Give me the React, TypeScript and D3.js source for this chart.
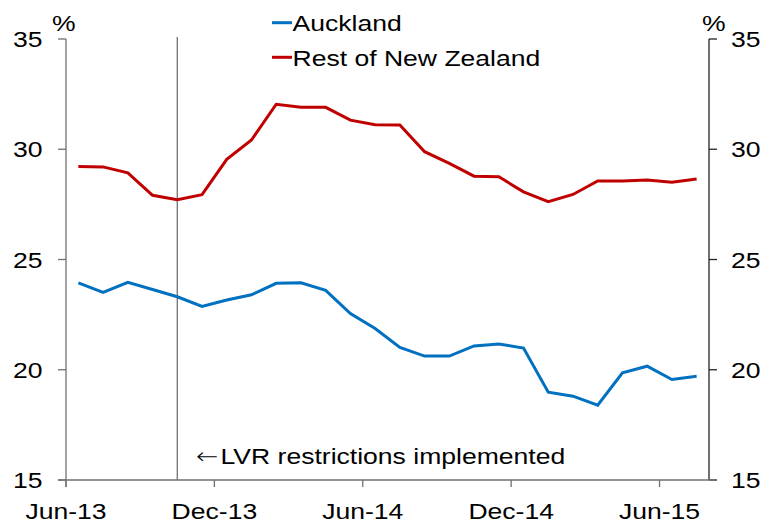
import React, { useEffect, useRef } from 'react';
import * as d3 from 'd3';

// monthly, Jun-13 .. Jul-15
const months = [
  'Jun-13', 'Jul-13', 'Aug-13', 'Sep-13', 'Oct-13', 'Nov-13', 'Dec-13',
  'Jan-14', 'Feb-14', 'Mar-14', 'Apr-14', 'May-14', 'Jun-14',
  'Jul-14', 'Aug-14', 'Sep-14', 'Oct-14', 'Nov-14', 'Dec-14',
  'Jan-15', 'Feb-15', 'Mar-15', 'Apr-15', 'May-15', 'Jun-15', 'Jul-15',
];
const auckland = [
  23.94, 23.51, 23.96, 23.64, 23.31, 22.87, 23.16, 23.4, 23.92, 23.94, 23.6, 22.55, 21.87,
  21.01, 20.62, 20.62, 21.08, 21.17, 20.98, 18.98, 18.8, 18.39, 19.86, 20.16, 19.56, 19.71,
];
const restOfNZ = [
  29.22, 29.2, 28.93, 27.91, 27.71, 27.94, 29.54, 30.42, 32.04, 31.9, 31.9, 31.32, 31.11,
  31.1, 29.89, 29.36, 28.78, 28.75, 28.07, 27.62, 27.95, 28.56, 28.56, 28.6, 28.5, 28.65,
];
const xTickLabels = ['Jun-13', 'Dec-13', 'Jun-14', 'Dec-14', 'Jun-15'];
const yTicks = [15, 20, 25, 30, 35];
const lvrMonth = 'Oct-13';

const W = 764;
const H = 525;
const FONT = 'Liberation Sans, Arial, sans-serif';
const SX = 1.18; // text in the original is a bit wider than tall

export default function App() {
  const ref = useRef<SVGSVGElement>(null);

  useEffect(() => {
    const svg = d3.select(ref.current);
    svg.selectAll('*').remove();

    const left = 66, right = 709, top = 39, bottom = 480;

    const x = d3.scaleBand().domain(months).range([left, right]).padding(0);
    const y = d3.scaleLinear().domain([15, 35]).range([bottom, top]);
    const cx = (m: string) => (x(m) as number) + x.bandwidth() / 2;

    const label = (g: any, tx: number, ty: number, s: string, anchor = 'start') =>
      g.append('text')
        .attr('transform', `translate(${tx},${ty}) scale(${SX},1)`)
        .attr('text-anchor', anchor)
        .attr('font-family', FONT).attr('font-size', 22.5).attr('fill', '#000')
        .text(s);

    // vertical marker for LVR restrictions
    svg.append('line')
      .attr('x1', cx(lvrMonth)).attr('x2', cx(lvrMonth))
      .attr('y1', 37).attr('y2', bottom)
      .attr('stroke', '#707070').attr('stroke-width', 1.3);

    // left axis
    const gl = svg.append('g');
    gl.append('line').attr('x1', left).attr('x2', left).attr('y1', top).attr('y2', bottom + 7)
      .attr('stroke', '#707070').attr('stroke-width', 1.3);
    yTicks.forEach(t => {
      gl.append('line').attr('x1', left - 8).attr('x2', left).attr('y1', y(t)).attr('y2', y(t))
        .attr('stroke', '#707070').attr('stroke-width', 1.3);
      label(gl, 42.5, y(t) + 8, String(t), 'end');
    });

    // right axis
    const gr = svg.append('g');
    gr.append('line').attr('x1', right).attr('x2', right).attr('y1', top).attr('y2', bottom)
      .attr('stroke', '#222').attr('stroke-width', 1.3);
    yTicks.forEach(t => {
      gr.append('line').attr('x1', right).attr('x2', right + 8).attr('y1', y(t)).attr('y2', y(t))
        .attr('stroke', '#222').attr('stroke-width', 1.3);
      label(gr, 731, y(t) + 8, String(t));
    });

    // bottom axis
    const gb = svg.append('g');
    gb.append('line').attr('x1', left - 8).attr('x2', right + 8).attr('y1', bottom).attr('y2', bottom)
      .attr('stroke', '#707070').attr('stroke-width', 1.3);
    xTickLabels.forEach(m => {
      const xp = x(m) as number;
      gb.append('line').attr('x1', xp).attr('x2', xp).attr('y1', bottom).attr('y2', bottom + 7)
        .attr('stroke', '#707070').attr('stroke-width', 1.3);
      label(gb, xp, 518.5, m, 'middle');
    });

    // units
    label(svg, 52, 31, '%');
    label(svg, 702, 31, '%');

    // series
    const line = d3.line<number>()
      .x((_, i) => cx(months[i]))
      .y(d => y(d));
    svg.append('path').datum(restOfNZ).attr('d', line)
      .attr('fill', 'none').attr('stroke', '#C00000').attr('stroke-width', 3);
    svg.append('path').datum(auckland).attr('d', line)
      .attr('fill', 'none').attr('stroke', '#0070C0').attr('stroke-width', 3);

    // legend
    const legend = [
      { name: 'Auckland', color: '#0070C0', y: 22.7 },
      { name: 'Rest of New Zealand', color: '#C00000', y: 57.3 },
    ];
    legend.forEach(l => {
      svg.append('line').attr('x1', 272).attr('x2', 292).attr('y1', l.y).attr('y2', l.y)
        .attr('stroke', l.color).attr('stroke-width', 3);
      label(svg, 292.5, l.y + 8.5, l.name);
    });

    // annotation
    const ann = label(svg, 196, 463.5, '');
    ann.append('tspan').attr('font-family', 'DejaVu Sans').attr('font-weight', 200).text('\u2190');
    ann.append('tspan').attr('dx', 2).text('LVR restrictions implemented');
  }, []);

  return (
    <svg ref={ref} width={W} height={H}
      style={{ position: 'absolute', left: 0, top: 0, background: '#fff' }} />
  );
}
